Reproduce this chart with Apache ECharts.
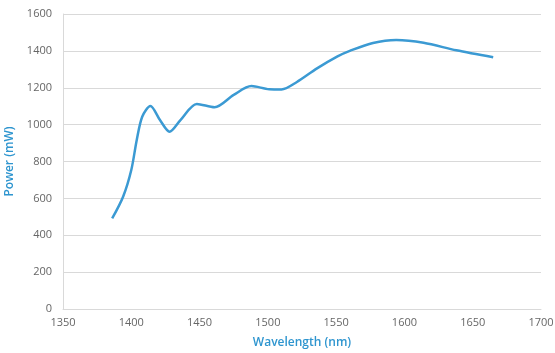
<!DOCTYPE html>
<html><head><meta charset="utf-8">
<script src="https://cdn.jsdelivr.net/npm/echarts@6/dist/echarts.min.js"></script>
<style>html,body{margin:0;padding:0;background:#fff}#c{width:555px;height:353px}</style>
</head><body><div id="c"></div>
<script>
const wavelength = [1386, 1394, 1400, 1404, 1408, 1414, 1421, 1428, 1436, 1448, 1461, 1475, 1488, 1501, 1510, 1521, 1536, 1551, 1560, 1577, 1594, 1614, 1638, 1665];
const power      = [491,  609,  754,  917,  1043, 1101, 1025, 962,  1025, 1112, 1094, 1161, 1209, 1192, 1191, 1230, 1305, 1370, 1400, 1443, 1459, 1444, 1403, 1365];
const xTicks = [1350, 1700, 50];
const yTicks = [0, 1600, 200];

const chart = echarts.init(document.getElementById('c'));
chart.setOption({
  animation: false,
  grid: {left: 63, right: 14, top: 14, bottom: 44, containLabel: false, outerBoundsMode: 'none'},
  xAxis: {
    type: 'value', min: xTicks[0], max: xTicks[1], interval: xTicks[2],
    name: 'Wavelength (nm)', nameLocation: 'middle', nameGap: 28,
    nameTextStyle: {color: '#2e95cf', fontSize: 12, fontFamily: 'Open Sans', fontWeight: 600},
    axisLine: {show: true, lineStyle: {color: '#d9d9d9'}},
    axisTick: {show: false},
    splitLine: {show: false},
    axisLabel: {color: '#666', fontSize: 11, fontFamily: 'Open Sans', margin: 8, formatter: v => String(v)}
  },
  yAxis: {
    type: 'value', min: yTicks[0], max: yTicks[1], interval: yTicks[2],
    name: 'Power (mW)', nameLocation: 'middle', nameGap: 46,
    nameTextStyle: {color: '#2e95cf', fontSize: 12, fontFamily: 'Open Sans', fontWeight: 600},
    axisLine: {show: true, lineStyle: {color: '#d9d9d9'}},
    axisTick: {show: false},
    splitLine: {lineStyle: {color: '#d9d9d9'}},
    axisLabel: {color: '#666', fontSize: 11, fontFamily: 'Open Sans', margin: 11, formatter: v => String(v)}
  },
  series: [{
    type: 'line', smooth: 0.3, showSymbol: false,
    data: wavelength.map((w, i) => [w, power[i]]),
    lineStyle: {color: '#3b9ad3', width: 2.5}
  }]
});
</script></body></html>
